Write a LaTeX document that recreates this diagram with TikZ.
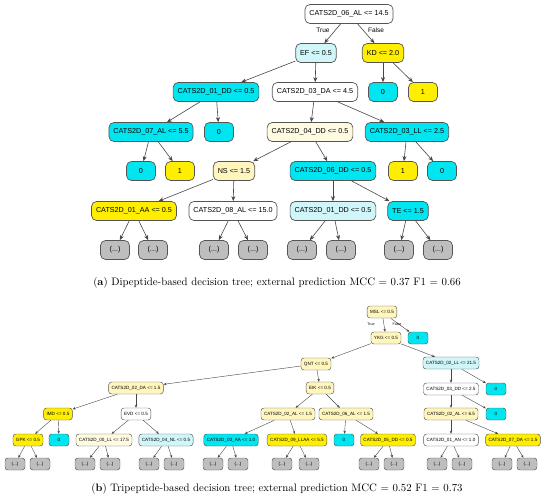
\documentclass[tikz,border=0pt]{standalone}
\usepackage{fontspec}
\usetikzlibrary{arrows.meta}
\newfontfamily\nodefont{Liberation Sans}
\definecolor{cyanF}{RGB}{0,230,240}
\definecolor{yelF}{RGB}{255,238,0}
\definecolor{lcyF}{RGB}{208,246,250}
\definecolor{crmF}{RGB}{255,246,190}
\definecolor{crlF}{RGB}{255,251,226}
\definecolor{gryF}{RGB}{190,190,190}
\definecolor{bordC}{RGB}{85,85,85}
\definecolor{edgeC}{RGB}{70,70,70}
\tikzset{
  na/.style={draw=bordC, rounded corners=5pt, line width=0.7pt,
    font=\nodefont\fontsize{7.2}{8}\selectfont, minimum height=19pt,
    inner xsep=4.5pt, inner ysep=0pt, fill=white},
  la/.style={na, minimum width=29pt},
  ea/.style={draw=edgeC, line width=0.6pt, -{Stealth[length=5pt,width=4pt]}},
  nb/.style={draw=bordC, rounded corners=3pt, line width=0.45pt,
    font=\nodefont\fontsize{4.6}{5}\selectfont, minimum height=12pt,
    inner xsep=3pt, inner ysep=0pt, fill=white},
  lb/.style={nb, minimum width=20pt},
  eb/.style={draw=edgeC, line width=0.4pt, -{Stealth[length=3pt,width=2.5pt]}},
  cy/.style={fill=cyanF}, ye/.style={fill=yelF}, lc/.style={fill=lcyF},
  cr/.style={fill=crmF}, cl/.style={fill=crlF}, gr/.style={fill=gryF},
  capt/.style={font=\fontsize{10.8}{13}\selectfont, inner sep=0pt}
}
\begin{document}
\begin{tikzpicture}[x=1pt,y=-1pt]
\useasboundingbox (0,0) rectangle (550,503);
% ---------------- tree a ----------------
\node[na] (root) at (349,14) {CATS2D\_06\_AL <= 14.5};
\node[na,lc] (ef) at (316,53) {EF <= 0.5};
\node[na,ye] (kd) at (383,53) {KD <= 2.0};
\node[na,cy] (a01dd) at (216,92) {CATS2D\_01\_DD <= 0.5};
\node[na] (a03da) at (315,92) {CATS2D\_03\_DA <= 4.5};
\node[la,cy] (kd0) at (383,92) {0};
\node[la,ye] (kd1) at (423,92) {1};
\node[na,cy] (a07al) at (151,132) {CATS2D\_07\_AL <= 5.5};
\node[la,cy] (a0) at (219,132) {0};
\node[na,cl] (a04dd) at (310,132) {CATS2D\_04\_DD <= 0.5};
\node[na,cy] (a03ll) at (407,132) {CATS2D\_03\_LL <= 2.5};
\node[la,cy] (l0) at (141,171) {0};
\node[la,ye] (l1) at (180,171) {1};
\node[na,cr] (ns) at (234,171) {NS <= 1.5};
\node[na,cy] (a06dd) at (333,171) {CATS2D\_06\_DD <= 0.5};
\node[la,ye] (ll1) at (403,171) {1};
\node[la,cy] (ll0) at (442,171) {0};
\node[na,ye] (a01aa) at (134,211) {CATS2D\_01\_AA <= 0.5};
\node[na] (a08al) at (233,211) {CATS2D\_08\_AL <= 15.0};
\node[na,lc] (a01ddb) at (333,211) {CATS2D\_01\_DD <= 0.5};
\node[na,cy] (te) at (408,211) {TE <= 1.5};
\node[la,gr] (d1) at (115,250) {(...)};
\node[la,gr] (d2) at (153,250) {(...)};
\node[la,gr] (d3) at (214,250) {(...)};
\node[la,gr] (d4) at (253,250) {(...)};
\node[la,gr] (d5) at (302,250) {(...)};
\node[la,gr] (d6) at (341,250) {(...)};
\node[la,gr] (d7) at (399,250) {(...)};
\node[la,gr] (d8) at (438,250) {(...)};
\draw[ea] (root) -- (ef);
\draw[ea] (root) -- (kd);
\node[font=\nodefont\fontsize{6.5}{7}\selectfont] (tT) at (323,30) {True};
\node[font=\nodefont\fontsize{6.5}{7}\selectfont] (tF) at (376,30) {False};
\draw[ea] (ef) -- (a01dd);
\draw[ea] (ef) -- (a03da);
\draw[ea] (kd) -- (kd0);
\draw[ea] (kd) -- (kd1);
\draw[ea] (a01dd) -- (a07al);
\draw[ea] (a01dd) -- (a0);
\draw[ea] (a03da) -- (a04dd);
\draw[ea] (a03da) -- (a03ll);
\draw[ea] (a07al) -- (l0);
\draw[ea] (a07al) -- (l1);
\draw[ea] (a04dd) -- (ns);
\draw[ea] (a04dd) -- (a06dd);
\draw[ea] (a03ll) -- (ll1);
\draw[ea] (a03ll) -- (ll0);
\draw[ea] (ns) -- (a01aa);
\draw[ea] (ns) -- (a08al);
\draw[ea] (a06dd) -- (a01ddb);
\draw[ea] (a06dd) -- (te);
\draw[ea] (a01aa) -- (d1);
\draw[ea] (a01aa) -- (d2);
\draw[ea] (a08al) -- (d3);
\draw[ea] (a08al) -- (d4);
\draw[ea] (a01ddb) -- (d5);
\draw[ea] (a01ddb) -- (d6);
\draw[ea] (te) -- (d7);
\draw[ea] (te) -- (d8);
\node[capt] (capa) at (277,283) {(\textbf{a}) Dipeptide-based decision tree; external prediction MCC = 0.37 F1 = 0.66};
% ---------------- tree b ----------------
\node[nb,cr] (msl) at (382,312) {MSL <= 0.5};
\node[nb,cr] (ykg) at (386,338) {YKG <= 0.5};
\node[lb,cy] (b0a) at (418,338) {0};
\node[nb,cr] (qnt) at (316,364) {QNT <= 0.5};
\node[nb,lc] (b02ll) at (451,363) {CATS2D\_02\_LL <= 21.5};
\node[nb,cr] (b02da) at (136,388) {CATS2D\_02\_DA <= 1.5};
\node[nb,cr] (eik) at (320,388) {EIK <= 0.5};
\node[nb] (b03dd) at (451,389) {CATS2D\_03\_DD <= 2.5};
\node[lb,cy] (b0b) at (496,389) {0};
\node[nb,ye] (imd) at (58,414) {IMD <= 0.5};
\node[nb] (evd) at (136,414) {EVD <= 0.5};
\node[nb,cr] (b02al) at (288,414) {CATS2D\_02\_AL <= 1.5};
\node[nb,cr] (b06al) at (346,414) {CATS2D\_06\_AL <= 1.5};
\node[nb,cr] (b02alb) at (451,414) {CATS2D\_02\_AL <= 6.5};
\node[lb,cy] (b0c) at (496,414) {0};
\node[nb,ye] (gpk) at (28,440) {GPK <= 0.5};
\node[lb,cy] (b0d) at (59,440) {0};
\node[nb,cl] (b00ll) at (104,440) {CATS2D\_00\_LL <= 17.5};
\node[nb,lc] (b04nl) at (166,440) {CATS2D\_04\_NL <= 0.5};
\node[nb,cy] (b03aa) at (231,440) {CATS2D\_03\_AA <= 1.0};
\node[nb,ye] (b09llaa) at (297,440) {CATS2D\_09\_LLAA <= 5.5};
\node[lb,cy] (b0e) at (344,440) {0};
\node[nb,ye] (b05dd) at (388,440) {CATS2D\_05\_DD <= 0.5};
\node[nb] (b01an) at (451,440) {CATS2D\_01\_AN <= 1.0};
\node[nb,ye] (b07da) at (513,440) {CATS2D\_07\_DA <= 1.5};
\foreach \n/\x in {e1/15,e2/40,e3/85,e4/110,e5/149,e6/174,e7/213,e8/238,e9/282,e10/309,e11/369,e12/394,e13/437,e14/462,e15/502,e16/527}
  \node[lb,gr] (\n) at (\x,464) {(...)};
\draw[eb] (msl) -- (ykg);
\draw[eb] (msl) -- (b0a);
\node[font=\nodefont\fontsize{3.6}{4}\selectfont] (uT) at (371,324) {True};
\node[font=\nodefont\fontsize{3.6}{4}\selectfont] (uF) at (397,324) {False};
\draw[eb] (ykg) -- (qnt);
\draw[eb] (ykg) -- (b02ll);
\draw[eb] (qnt) -- (b02da);
\draw[eb] (qnt) -- (eik);
\draw[eb] (b02ll) -- (b03dd);
\draw[eb] (b02ll) -- (b0b);
\draw[eb] (b02da) -- (imd);
\draw[eb] (b02da) -- (evd);
\draw[eb] (eik) -- (b02al);
\draw[eb] (eik) -- (b06al);
\draw[eb] (b03dd) -- (b02alb);
\draw[eb] (b03dd) -- (b0c);
\draw[eb] (imd) -- (gpk);
\draw[eb] (imd) -- (b0d);
\draw[eb] (evd) -- (b00ll);
\draw[eb] (evd) -- (b04nl);
\draw[eb] (b02al) -- (b03aa);
\draw[eb] (b02al) -- (b09llaa);
\draw[eb] (b06al) -- (b0e);
\draw[eb] (b06al) -- (b05dd);
\draw[eb] (b02alb) -- (b01an);
\draw[eb] (b02alb) -- (b07da);
\draw[eb] (gpk) -- (e1);
\draw[eb] (gpk) -- (e2);
\draw[eb] (b00ll) -- (e3);
\draw[eb] (b00ll) -- (e4);
\draw[eb] (b04nl) -- (e5);
\draw[eb] (b04nl) -- (e6);
\draw[eb] (b03aa) -- (e7);
\draw[eb] (b03aa) -- (e8);
\draw[eb] (b09llaa) -- (e9);
\draw[eb] (b09llaa) -- (e10);
\draw[eb] (b05dd) -- (e11);
\draw[eb] (b05dd) -- (e12);
\draw[eb] (b01an) -- (e13);
\draw[eb] (b01an) -- (e14);
\draw[eb] (b07da) -- (e15);
\draw[eb] (b07da) -- (e16);
\node[capt] (capb) at (277,489) {(\textbf{b}) Tripeptide-based decision tree; external prediction MCC = 0.52 F1 = 0.73};
\end{tikzpicture}
\end{document}
